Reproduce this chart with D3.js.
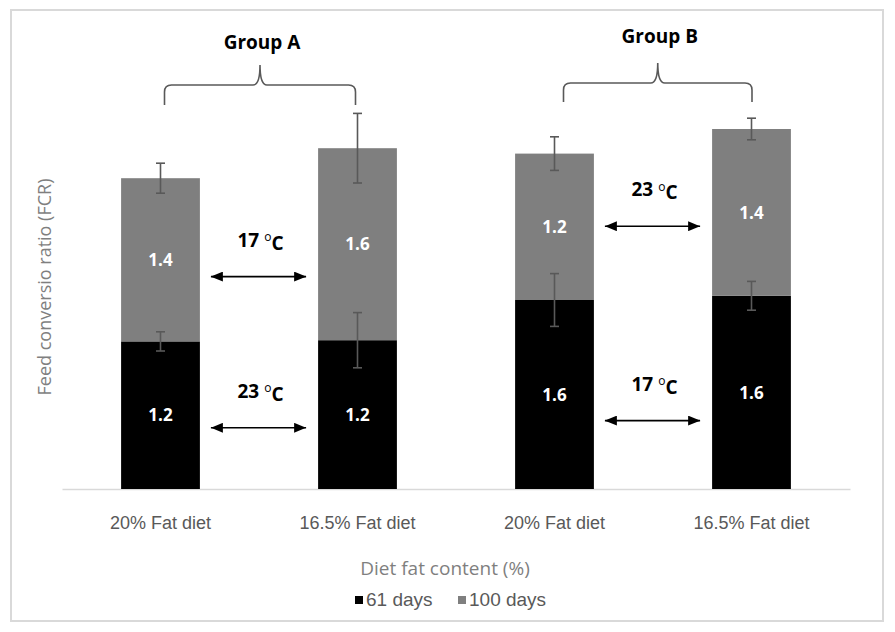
<!DOCTYPE html>
<html>
<head>
<meta charset="utf-8">
<script src="https://cdn.jsdelivr.net/npm/d3@7"></script>
<style>
  body { margin: 0; background: #fff; }
  svg { display: block; }
</style>
</head>
<body>
<div id="chart"></div>
<script>
// Chart values
const dietLabels = ["20% Fat diet", "16.5% Fat diet", "20% Fat diet", "16.5% Fat diet"];
const groupNames = ["Group A", "Group B"];
const seriesNames = ["61 days", "100 days"];
const fcr61 = [1.23, 1.24, 1.575, 1.61];
const fcr100 = [1.36, 1.6, 1.22, 1.39];
const err61 = [0.08, 0.23, 0.22, 0.12];
const err100 = [0.125, 0.29, 0.14, 0.09];
// temperature arrows: [bar on the left, label, level in FCR units]
const tempNotes = [
  [0, "17", 1.77],
  [0, "23", 0.51],
  [2, "23", 2.19],
  [2, "17", 0.57],
];

const width = 895;
const height = 632;
const margin = { top: 69, right: 45, bottom: 143, left: 62 };
const colors = ["#000000", "#7f7f7f"];

const svg = d3.select("#chart")
  .append("svg")
  .attr("width", width)
  .attr("height", height);

// outer frame
svg.append("rect")
  .attr("x", 11).attr("y", 10)
  .attr("width", 872).attr("height", 611)
  .attr("fill", "#fff")
  .attr("stroke", "#d9d9d9")
  .attr("stroke-width", 2);

const rows = dietLabels.map((d, i) => ({
  id: i,
  label: d,
  d61: fcr61[i],
  d100: fcr100[i],
  e61: err61[i],
  e100: err100[i],
}));

const x = d3.scaleBand()
  .domain(rows.map(d => d.id))
  .range([margin.left, width - margin.right])
  .paddingInner(0.6)
  .paddingOuter(0.3);

const y = d3.scaleLinear()
  .domain([0, 3.5])
  .range([height - margin.bottom, height - margin.bottom - 420]);

const stacked = d3.stack().keys(["d61", "d100"])(rows);

// x axis (no ticks, light baseline)
const xAxis = svg.append("g")
  .attr("transform", `translate(0,${y(0)})`)
  .call(d3.axisBottom(x).tickSize(0).tickPadding(27).tickFormat(i => dietLabels[i]));
xAxis.select(".domain")
  .attr("stroke", "#d9d9d9")
  .attr("stroke-width", 1.5);
xAxis.selectAll("text")
  .style("font-family", "'Liberation Sans', Arial, sans-serif")
  .style("font-size", "18px")
  .style("fill", "#595959");

// bars
const layers = svg.selectAll(".layer")
  .data(stacked)
  .join("g")
  .attr("class", "layer")
  .attr("fill", (d, i) => colors[i]);

layers.selectAll("rect")
  .data(d => d)
  .join("rect")
  .attr("x", d => x(d.data.id))
  .attr("width", x.bandwidth())
  .attr("y", d => y(d[1]))
  .attr("height", d => y(d[0]) - y(d[1]));

// value labels inside the segments
layers.selectAll("text")
  .data(d => d)
  .join("text")
  .attr("x", d => x(d.data.id) + x.bandwidth() / 2)
  .attr("y", d => (y(d[0]) + y(d[1])) / 2)
  .attr("dy", "0.36em")
  .attr("text-anchor", "middle")
  .style("font-family", "'Open Sans', sans-serif")
  .style("font-weight", "bold")
  .style("font-size", "17px")
  .style("fill", "#fff")
  .text(d => d3.format(".1f")(d[1] - d[0]));

// error bars at the top of each segment
const errKeys = ["e61", "e100"];
const errGroup = svg.append("g")
  .attr("stroke", "#595959")
  .attr("stroke-width", 1.6);
stacked.forEach((layer, k) => {
  layer.forEach(d => {
    const cx = x(d.data.id) + x.bandwidth() / 2;
    const e = d.data[errKeys[k]];
    const y0 = y(d[1] - e);
    const y1 = y(d[1] + e);
    errGroup.append("line").attr("x1", cx).attr("x2", cx).attr("y1", y0).attr("y2", y1);
    errGroup.append("line").attr("x1", cx - 4.5).attr("x2", cx + 4.5).attr("y1", y0).attr("y2", y0);
    errGroup.append("line").attr("x1", cx - 4.5).attr("x2", cx + 4.5).attr("y1", y1).attr("y2", y1);
  });
});

// arrow heads
const defs = svg.append("defs");
defs.append("marker")
  .attr("id", "head")
  .attr("viewBox", "0 0 12 10")
  .attr("refX", 12).attr("refY", 5)
  .attr("markerWidth", 12).attr("markerHeight", 10)
  .attr("markerUnits", "userSpaceOnUse")
  .attr("orient", "auto-start-reverse")
  .append("path")
  .attr("d", "M0,0L12,5L0,10Z")
  .attr("fill", "#000");

// temperature arrows between the two bars of a group
tempNotes.forEach(([i, t, level]) => {
  const xa = x(i) + x.bandwidth() + 11;
  const xb = x(i + 1) - 12;
  const ya = y(level);
  svg.append("line")
    .attr("x1", xa).attr("x2", xb)
    .attr("y1", ya).attr("y2", ya)
    .attr("stroke", "#000")
    .attr("stroke-width", 1.6)
    .attr("marker-start", "url(#head)")
    .attr("marker-end", "url(#head)");
  const label = svg.append("text")
    .attr("x", (xa + xb) / 2 + 2)
    .attr("y", ya - 30)
    .attr("text-anchor", "middle")
    .style("font-family", "'Open Sans', sans-serif")
    .style("font-weight", "bold")
    .style("font-size", "19px")
    .style("fill", "#000");
  label.append("tspan").text(t + " ");
  label.append("tspan").attr("dy", "-0.45em").style("font-size", "12px").style("font-weight", "normal").text("o");
  label.append("tspan").attr("dy", "0.45em").text("C");
});

// group braces and titles: [line y, end y, tip y, title y, x shift]
const braceLevels = [[85, 105, 65, 49, 0], [83, 102, 63, 43, 5]];
groupNames.forEach((g, k) => {
  const [lineY, endY, tipY, textY, dx] = braceLevels[k];
  const x0 = x(k * 2) + x.bandwidth() / 2 + 4 + dx;
  const x1 = x(k * 2 + 1) + x.bandwidth() / 2 - 2 + dx / 2;
  const xm = (x0 + x1) / 2;
  const r = 7;
  const p = d3.path();
  p.moveTo(x0, endY);
  p.lineTo(x0, lineY + r);
  p.quadraticCurveTo(x0, lineY, x0 + r, lineY);
  p.lineTo(xm - r, lineY);
  p.quadraticCurveTo(xm, lineY, xm, tipY);
  p.quadraticCurveTo(xm, lineY, xm + r, lineY);
  p.lineTo(x1 - r, lineY);
  p.quadraticCurveTo(x1, lineY, x1, lineY + r);
  p.lineTo(x1, endY);
  svg.append("path")
    .attr("d", p.toString())
    .attr("fill", "none")
    .attr("stroke", "#595959")
    .attr("stroke-width", 1.6);
  svg.append("text")
    .attr("x", xm + 2)
    .attr("y", textY)
    .attr("text-anchor", "middle")
    .style("font-family", "'Open Sans', sans-serif")
    .style("font-weight", "bold")
    .style("font-size", "19px")
    .style("fill", "#000")
    .text(g);
});

// axis titles
svg.append("text")
  .attr("transform", `translate(51,287) rotate(-90)`)
  .attr("text-anchor", "middle")
  .style("font-family", "'Open Sans', sans-serif")
  .style("font-size", "18px")
  .style("fill", "#7f7f7f")
  .text("Feed conversio ratio (FCR)");

svg.append("text")
  .attr("x", 445)
  .attr("y", 575)
  .attr("text-anchor", "middle")
  .style("font-family", "'Open Sans', sans-serif")
  .style("font-size", "19px")
  .style("fill", "#7f7f7f")
  .text("Diet fat content (%)");

// legend
const legendX = [355, 458];
const legend = svg.selectAll(".legend")
  .data(seriesNames)
  .join("g")
  .attr("class", "legend")
  .attr("transform", (d, i) => `translate(${legendX[i]},596)`);
legend.append("rect")
  .attr("width", 8).attr("height", 8)
  .attr("fill", (d, i) => colors[i]);
legend.append("text")
  .attr("x", 11)
  .attr("y", 10)
  .style("font-family", "'Liberation Sans', Arial, sans-serif")
  .style("font-size", "19px")
  .style("fill", "#595959")
  .text(d => d);
</script>
</body>
</html>
